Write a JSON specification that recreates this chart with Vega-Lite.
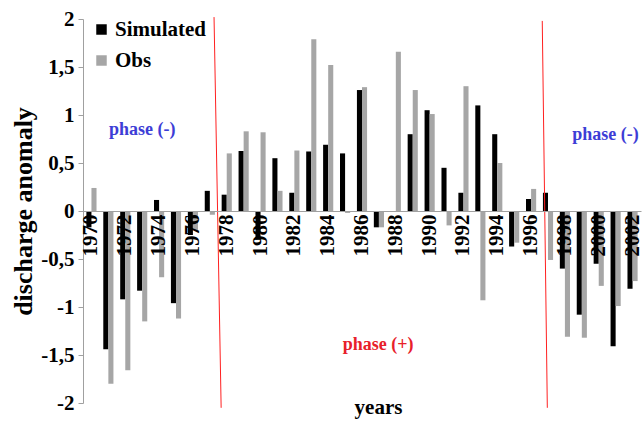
{
  "$schema": "https://vega.github.io/schema/vega-lite/v6.json",
  "width": 558,
  "height": 384,
  "autosize": {"type": "none"},
  "padding": {"left": 83, "top": 19, "right": 3, "bottom": 22},
  "background": "white",
  "config": {"view": {"stroke": null}, "font": "Liberation Serif"},
  "datasets": {
    "bars": [
      {"year": 1970, "series": "Simulated", "value": -0.17}, {"year": 1970, "series": "Obs", "value": 0.24},
      {"year": 1971, "series": "Simulated", "value": -1.44}, {"year": 1971, "series": "Obs", "value": -1.80},
      {"year": 1972, "series": "Simulated", "value": -0.92}, {"year": 1972, "series": "Obs", "value": -1.66},
      {"year": 1973, "series": "Simulated", "value": -0.83}, {"year": 1973, "series": "Obs", "value": -1.15},
      {"year": 1974, "series": "Simulated", "value": 0.115}, {"year": 1974, "series": "Obs", "value": -0.69},
      {"year": 1975, "series": "Simulated", "value": -0.96}, {"year": 1975, "series": "Obs", "value": -1.12},
      {"year": 1976, "series": "Simulated", "value": -0.25}, {"year": 1976, "series": "Obs", "value": -0.2},
      {"year": 1977, "series": "Simulated", "value": 0.21}, {"year": 1977, "series": "Obs", "value": -0.04},
      {"year": 1978, "series": "Simulated", "value": 0.17}, {"year": 1978, "series": "Obs", "value": 0.60},
      {"year": 1979, "series": "Simulated", "value": 0.625}, {"year": 1979, "series": "Obs", "value": 0.83},
      {"year": 1980, "series": "Simulated", "value": -0.3}, {"year": 1980, "series": "Obs", "value": 0.82},
      {"year": 1981, "series": "Simulated", "value": 0.55}, {"year": 1981, "series": "Obs", "value": 0.21},
      {"year": 1982, "series": "Simulated", "value": 0.19}, {"year": 1982, "series": "Obs", "value": 0.63},
      {"year": 1983, "series": "Simulated", "value": 0.62}, {"year": 1983, "series": "Obs", "value": 1.79},
      {"year": 1984, "series": "Simulated", "value": 0.69}, {"year": 1984, "series": "Obs", "value": 1.52},
      {"year": 1985, "series": "Simulated", "value": 0.60}, {"year": 1985, "series": "Obs", "value": -0.02},
      {"year": 1986, "series": "Simulated", "value": 1.26}, {"year": 1986, "series": "Obs", "value": 1.29},
      {"year": 1987, "series": "Simulated", "value": -0.17}, {"year": 1987, "series": "Obs", "value": -0.17},
      {"year": 1988, "series": "Simulated", "value": 0}, {"year": 1988, "series": "Obs", "value": 1.66},
      {"year": 1989, "series": "Simulated", "value": 0.80}, {"year": 1989, "series": "Obs", "value": 1.26},
      {"year": 1990, "series": "Simulated", "value": 1.05}, {"year": 1990, "series": "Obs", "value": 1.01},
      {"year": 1991, "series": "Simulated", "value": 0.45}, {"year": 1991, "series": "Obs", "value": -0.15},
      {"year": 1992, "series": "Simulated", "value": 0.19}, {"year": 1992, "series": "Obs", "value": 1.30},
      {"year": 1993, "series": "Simulated", "value": 1.10}, {"year": 1993, "series": "Obs", "value": -0.93},
      {"year": 1994, "series": "Simulated", "value": 0.80}, {"year": 1994, "series": "Obs", "value": 0.50},
      {"year": 1995, "series": "Simulated", "value": -0.37}, {"year": 1995, "series": "Obs", "value": -0.33},
      {"year": 1996, "series": "Simulated", "value": 0.125}, {"year": 1996, "series": "Obs", "value": 0.23},
      {"year": 1997, "series": "Simulated", "value": 0.19}, {"year": 1997, "series": "Obs", "value": -0.51},
      {"year": 1998, "series": "Simulated", "value": -0.6}, {"year": 1998, "series": "Obs", "value": -1.31},
      {"year": 1999, "series": "Simulated", "value": -1.08}, {"year": 1999, "series": "Obs", "value": -1.32},
      {"year": 2000, "series": "Simulated", "value": -0.55}, {"year": 2000, "series": "Obs", "value": -0.78},
      {"year": 2001, "series": "Simulated", "value": -1.41}, {"year": 2001, "series": "Obs", "value": -0.99},
      {"year": 2002, "series": "Simulated", "value": -0.81}, {"year": 2002, "series": "Obs", "value": -0.73}
    ],
    "lines": [
      {"xa": 1977.25, "xb": 1977.67, "ya": 2.02, "yb": -2.05},
      {"xa": 1996.66, "xb": 1996.96, "ya": 1.98, "yb": -2.05}
    ],
    "labels": [
      {"x": 1973.0, "y": 0.84, "text": "phase (-)", "kind": "neg"},
      {"x": 1986.95, "y": -1.40, "text": "phase (+)", "kind": "pos"},
      {"x": 2000.4, "y": 0.79, "text": "phase (-)", "kind": "neg"}
    ]
  },
  "layer": [
    {
      "data": {"name": "bars"},
      "mark": {"type": "bar"},
      "encoding": {
        "x": {
          "field": "year", "type": "ordinal",
          "scale": {"paddingInner": 0.4, "paddingOuter": 0.2},
          "axis": {
            "values": [1970, 1972, 1974, 1976, 1978, 1980, 1982, 1984, 1986, 1988, 1990, 1992, 1994, 1996, 1998, 2000, 2002],
            "labelAngle": -90,
            "offset": -192,
            "zindex": 1,
            "domainColor": "#a0a0a0",
            "ticks": false,
            "labelPadding": 3,
            "labelFont": "Liberation Serif",
            "labelFontWeight": "bold",
            "labelFontSize": 21,
            "labelColor": "black",
            "title": "years",
            "titleFont": "Liberation Serif",
            "titleFontWeight": "bold",
            "titleFontSize": 21,
            "titleColor": "black",
            "titleX": 295,
            "titleY": 202,
            "titleBaseline": "alphabetic"
          }
        },
        "xOffset": {"field": "series", "type": "nominal", "scale": {"domain": ["Simulated", "Obs"]}},
        "y": {
          "field": "value", "type": "quantitative",
          "scale": {"domain": [-2, 2], "nice": false},
          "axis": {
            "values": [-2, -1.5, -1, -0.5, 0, 0.5, 1, 1.5, 2],
            "labelExpr": "(datum.value < 0 ? '-' : '') + replace(format(abs(datum.value), '~g'), '.', ',')",
            "grid": false,
            "domainColor": "#a0a0a0",
            "tickColor": "#a0a0a0",
            "tickSize": 5,
            "labelPadding": 4,
            "labelFont": "Liberation Serif",
            "labelFontWeight": "bold",
            "labelFontSize": 21,
            "labelColor": "black",
            "title": "discharge anomaly",
            "titleFont": "Liberation Serif",
            "titleFontWeight": "bold",
            "titleFontSize": 26,
            "titleColor": "black",
            "titlePadding": 4
          }
        },
        "color": {
          "field": "series", "type": "nominal",
          "scale": {"domain": ["Simulated", "Obs"], "range": ["#000000", "#a6a6a6"]},
          "legend": {
            "title": null,
            "orient": "none",
            "legendX": 8,
            "legendY": 0,
            "symbolType": "square",
            "symbolSize": 110,
            "symbolStrokeWidth": 0,
            "labelFont": "Liberation Serif",
            "labelFontWeight": "bold",
            "labelFontSize": 21,
            "labelColor": "black",
            "rowPadding": 9,
            "labelOffset": 3
          }
        }
      }
    },
    {
      "data": {"name": "lines"},
      "mark": {"type": "rule", "color": "#ff2020", "strokeWidth": 1},
      "encoding": {
        "x": {"field": "xa", "type": "quantitative", "scale": {"domain": [1969.5, 2002.5], "nice": false, "zero": false}, "axis": null},
        "x2": {"field": "xb"},
        "y": {"field": "ya", "type": "quantitative"},
        "y2": {"field": "yb"}
      }
    },
    {
      "data": {"name": "labels"},
      "mark": {"type": "text", "font": "Liberation Serif", "fontWeight": "bold", "fontSize": 18, "align": "center", "baseline": "middle"},
      "encoding": {
        "x": {"field": "x", "type": "quantitative", "scale": {"domain": [1969.5, 2002.5], "nice": false, "zero": false}, "axis": null},
        "y": {"field": "y", "type": "quantitative"},
        "text": {"field": "text"},
        "color": {"field": "kind", "type": "nominal", "scale": {"domain": ["neg", "pos"], "range": ["#3d3dd6", "#e8202a"]}, "legend": null}
      }
    }
  ],
  "resolve": {"scale": {"x": "independent", "color": "independent"}}
}
